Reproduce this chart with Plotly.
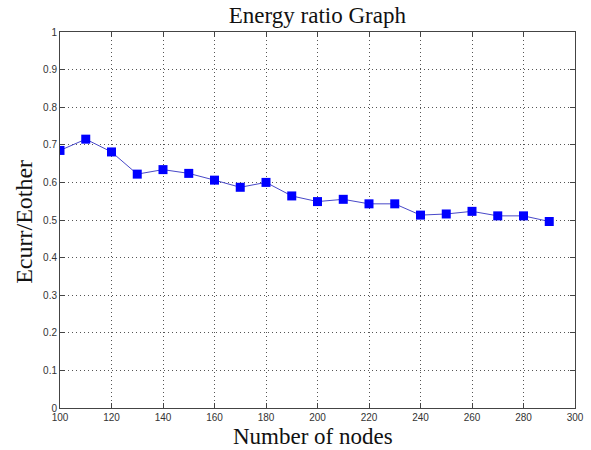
import plotly.graph_objects as go

nodes = [100, 110, 120, 130, 140, 150, 160, 170, 180, 190, 200, 210, 220, 230, 240, 250, 260, 270, 280, 290]
ratio = [0.685, 0.715, 0.681, 0.622, 0.634, 0.624, 0.606, 0.587, 0.600, 0.564, 0.549, 0.555, 0.543, 0.543, 0.513, 0.516, 0.523, 0.511, 0.511, 0.496]

x_ticks = [100, 120, 140, 160, 180, 200, 220, 240, 260, 280, 300]
y_ticks = [0, 0.1, 0.2, 0.3, 0.4, 0.5, 0.6, 0.7, 0.8, 0.9, 1]
y_labels = ["0", "0.1", "0.2", "0.3", "0.4", "0.5", "0.6", "0.7", "0.8", "0.9", "1"]

fig = go.Figure()
fig.add_trace(go.Scatter(
    x=nodes, y=ratio, mode="lines+markers",
    line=dict(color="#4848c8", width=1),
    marker=dict(symbol="square", size=9, color="#0000ff", line=dict(width=0)),
    showlegend=False,
))

serif = "Liberation Serif, Times New Roman, serif"
axis_common = dict(
    showline=True, linecolor="#444444", linewidth=1, mirror="ticks",
    ticks="inside", ticklen=5, tickcolor="#444444",
    showgrid=True, gridcolor="#555555", griddash="1px,3px", gridwidth=1,
    zeroline=False, automargin=False,
    tickfont=dict(family="Liberation Sans, Arial, sans-serif", size=10, color="#333333"),
)

fig.update_layout(
    width=591, height=450,
    margin=dict(l=60, r=16, t=32, b=42),
    paper_bgcolor="white", plot_bgcolor="white",
    title=dict(text="Energy ratio Graph", x=0.537, xanchor="center",
               xref="container", yref="container", y=0.966, yanchor="middle",
               font=dict(family=serif, size=23, color="#111111")),
    xaxis=dict(range=[100, 300], tickvals=x_ticks, ticktext=[str(v) for v in x_ticks],
               **axis_common),
    yaxis=dict(range=[0, 1], tickvals=y_ticks, ticktext=y_labels,
               **axis_common),
    annotations=[
        dict(text="Number of nodes", xref="paper", yref="paper", x=0.492, y=-0.077,
             xanchor="center", yanchor="middle", showarrow=False,
             font=dict(family=serif, size=23, color="#111111")),
        dict(text="Ecurr/Eother", xref="paper", yref="paper", x=-0.07, y=0.495,
             xanchor="center", yanchor="middle", textangle=-90, showarrow=False,
             font=dict(family=serif, size=24, color="#111111")),
    ],
)

fig.write_html("out.html", config={"displayModeBar": False},
               post_script="document.body.style.margin='0px';")
